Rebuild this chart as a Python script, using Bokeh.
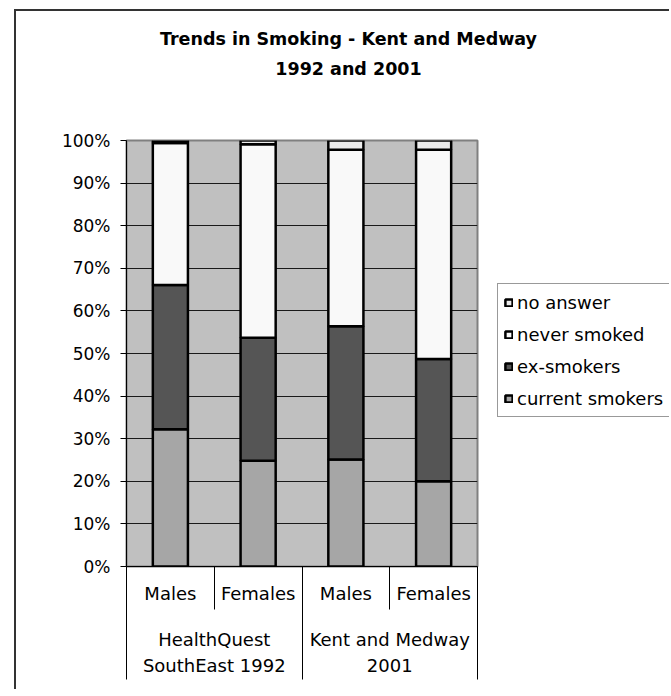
from bokeh.plotting import figure
from bokeh.models import (ColumnDataSource, Range1d, FixedTicker,
                          PrintfTickFormatter, Legend, LegendItem, LinearAxis)
from bokeh.embed import file_html
from bokeh.resources import INLINE

# ---------------- data ----------------
groups = ["HealthQuest\nSouthEast 1992", "Kent and Medway\n2001"]
sexes = ["Males", "Females"]
series = ["current smokers", "ex-smokers", "never smoked", "no answer"]
current_smokers = [32.2, 24.8, 25.1, 20.0]
ex_smokers = [33.9, 28.9, 31.3, 28.7]
never_smoked = [33.3, 45.4, 41.4, 49.1]
no_answer = [0.6, 0.9, 2.2, 2.2]
y_ticks = [0, 10, 20, 30, 40, 50, 60, 70, 80, 90, 100]
title_lines = ["Trends in Smoking - Kent and Medway", "1992 and 2001"]

colors = ["#a6a6a6", "#555555", "#f9f9f9", "#ececec"]
FONT = "DejaVu Sans"

factors = [(g, s) for g in groups for s in sexes]
n = len(factors)
centers = [i + 0.5 for i in range(n)]          # category slots 0..n
src = ColumnDataSource(data={
    "x": centers,
    "current smokers": current_smokers,
    "ex-smokers": ex_smokers,
    "never smoked": never_smoked,
    "no answer": no_answer,
})

# canvas sits inside a bordered chart area (border drawn with CSS)
W, H = 655, 680
FW, FH = 351, 426
ML, MT = 110, 129
MR, MB = W - ML - FW, H - MT - FH

p = figure(x_range=Range1d(0, n), y_range=Range1d(0, 100),
           frame_width=FW, frame_height=FH,
           min_border_left=ML, min_border_right=MR, min_border_top=MT,
           min_border_bottom=MB, output_backend="svg", toolbar_location=None,
           x_axis_location=None)
p.styles = {"margin-left": "14px", "margin-top": "9px",
            "border-left": "2px solid #333333",
            "border-top": "2px solid #333333",
            "max-width": f"{W}px", "max-height": f"{H}px",
            "overflow": "hidden"}
p.background_fill_color = "#c0c0c0"
p.border_fill_color = "white"
p.outline_line_color = "#808080"
p.outline_line_width = 2
p.extra_x_ranges = {"px": Range1d(0, FW)}

rs = p.vbar_stack(series, x="x", width=0.4, source=src, fill_color=colors,
                  line_color="black", line_width=2.5)

# grid
p.xgrid.grid_line_color = None
p.ygrid.ticker = FixedTicker(ticks=y_ticks)
p.ygrid.grid_line_color = "#1a1a1a"
p.ygrid.grid_line_width = 1

# y axis
ya = p.yaxis[0]
ya.ticker = FixedTicker(ticks=y_ticks)
ya.formatter = PrintfTickFormatter(format="%d%%")
ya.major_label_text_font = FONT
ya.major_label_text_font_size = "17px"
ya.major_label_text_color = "black"
ya.major_tick_out = 6
ya.major_tick_in = 0
ya.minor_tick_line_color = None
ya.axis_line_color = "black"
ya.major_tick_line_color = "black"
ya.major_label_standoff = 10

# x axis, level 1: Males / Females with short separators
SHORT, LONG = 43, 110
bounds = list(range(n + 1))
sub_labels = [f[1] for f in factors]
ov1 = {}
for c, lab in zip(centers, sub_labels):
    ov1[c] = lab
ax1 = LinearAxis(ticker=FixedTicker(ticks=centers, minor_ticks=bounds),
                 major_label_overrides=ov1)
ax1.major_tick_line_color = None
ax1.major_tick_out = 0
ax1.major_tick_in = 0
ax1.minor_tick_line_color = "black"
ax1.minor_tick_line_width = 1
ax1.minor_tick_out = SHORT
ax1.minor_tick_in = 0
ax1.axis_line_color = "black"
ax1.major_label_text_font = FONT
ax1.major_label_text_font_size = "18px"
ax1.major_label_text_color = "black"
ax1.major_label_standoff = 16 - SHORT
p.add_layout(ax1, "below")

# x axis, level 2: groups with long separators
k = len(sexes)
gcenters = [g * k + k / 2 for g in range(len(groups))]
gbounds = [g * k for g in range(len(groups) + 1)]
ov2 = {}
for c, lab in zip(gcenters, groups):
    ov2[c] = lab
AX1_EXT = 37
ax2 = LinearAxis(ticker=FixedTicker(ticks=gcenters, minor_ticks=gbounds),
                 major_label_overrides=ov2)
ax2.major_tick_line_color = None
ax2.major_tick_out = 0
ax2.major_tick_in = 0
ax2.minor_tick_line_color = "black"
ax2.minor_tick_line_width = 1
ax2.minor_tick_out = LONG - AX1_EXT
ax2.minor_tick_in = 14
ax2.axis_line_color = None
ax2.major_label_text_font = FONT
ax2.major_label_text_font_size = "18px"
ax2.major_label_text_color = "black"
ax2.major_label_text_line_height = 1.25
ax2.major_label_standoff = 22 - (LONG - AX1_EXT)
p.add_layout(ax2, "below")

# title as two centred lines (held by label-only axes above the frame)
TITLE_X = 222
for line, standoff in ((title_lines[1], 62), (title_lines[0], 7)):
    ta = LinearAxis(x_range_name="px", ticker=FixedTicker(ticks=[TITLE_X]),
                    major_label_overrides={TITLE_X: line})
    ta.axis_line_color = None
    ta.major_tick_line_color = None
    ta.minor_tick_line_color = None
    ta.major_tick_out = 0
    ta.major_tick_in = 0
    ta.major_label_text_font = FONT
    ta.major_label_text_font_size = "17.5px"
    ta.major_label_text_font_style = "bold"
    ta.major_label_text_color = "black"
    ta.major_label_standoff = standoff
    p.add_layout(ta, "above")

# legend (right of the plot area)
legend = Legend(items=[LegendItem(label=series[i], renderers=[rs[i]])
                       for i in reversed(range(len(series)))],
                location=(20, 149))
legend.border_line_color = "#333333"
legend.border_line_width = 1
legend.background_fill_color = "white"
legend.background_fill_alpha = 1
legend.label_text_font = FONT
legend.label_text_font_size = "18px"
legend.label_text_color = "black"
legend.glyph_width = 9
legend.glyph_height = 9
legend.label_height = 24
legend.label_width = 155
legend.spacing = 8
legend.padding = 6
legend.margin = 0
legend.label_standoff = 4
p.add_layout(legend, "right")

open("out.html", "w").write(file_html(p, INLINE))
